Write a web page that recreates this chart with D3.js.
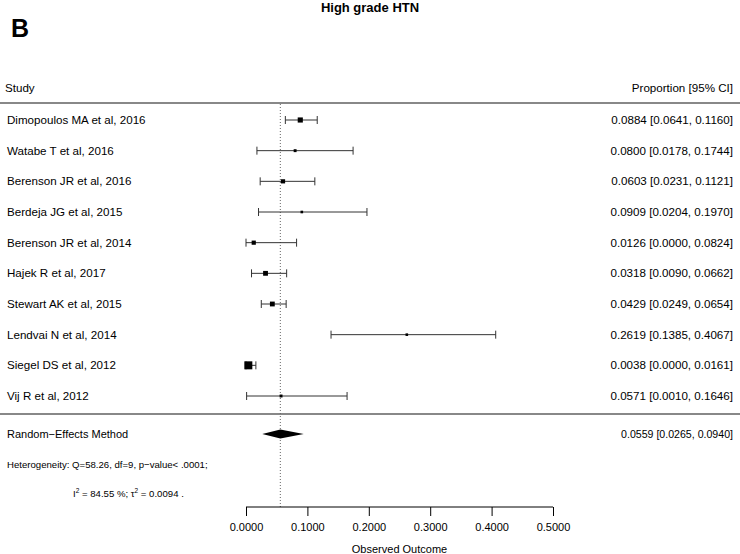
<!DOCTYPE html>
<html>
<head>
<meta charset="utf-8">
<script src="https://cdn.jsdelivr.net/npm/d3@7"></script>
<style>
  body { margin: 0; background: #fff; }
  svg { font-family: "Liberation Sans", Arial, sans-serif; }
</style>
</head>
<body>
<svg id="chart" width="740" height="554"></svg>
<script>
// study data
const studies = ["Dimopoulos MA et al, 2016", "Watabe T et al, 2016", "Berenson JR et al, 2016",
  "Berdeja JG et al, 2015", "Berenson JR et al, 2014", "Hajek R et al, 2017", "Stewart AK et al, 2015",
  "Lendvai N et al, 2014", "Siegel DS et al, 2012", "Vij R et al, 2012"];
const est = [0.0884, 0.0800, 0.0603, 0.0909, 0.0126, 0.0318, 0.0429, 0.2619, 0.0038, 0.0571];
const lower = [0.0641, 0.0178, 0.0231, 0.0204, 0.0000, 0.0090, 0.0249, 0.1385, 0.0000, 0.0010];
const upper = [0.1160, 0.1744, 0.1121, 0.1970, 0.0824, 0.0662, 0.0654, 0.4067, 0.0161, 0.1646];
const weights = [11.5, 8, 10, 7.5, 10, 11, 11, 7.5, 16, 8];   // approx. relative weights
const pooled = { est: 0.0559, lo: 0.0265, hi: 0.0940 };
const xTicks = [0, 0.1, 0.2, 0.3, 0.4, 0.5];

const svg = d3.select("#chart");
const W = 740;

const x = d3.scaleLinear().domain([0, 0.5]).range([246, 553]);
const y = d3.scaleLinear().domain([0, studies.length - 1]).range([120, 396]);
const size = d3.scaleLinear().domain([7.5, 16]).range([2.6, 8]);
const fmt = d3.format(".4f");

// titles
svg.append("text").attr("x", 370).attr("y", 12).attr("text-anchor", "middle")
  .attr("font-size", 13).attr("font-weight", "bold").text("High grade HTN");
svg.append("text").attr("x", 11).attr("y", 37)
  .attr("font-size", 25).attr("font-weight", "bold").text("B");

// headers
svg.append("text").attr("x", 5).attr("y", 88).attr("dy", "0.35em").attr("font-size", 11.6).text("Study");
svg.append("text").attr("x", 733).attr("y", 88).attr("dy", "0.35em").attr("text-anchor", "end")
  .attr("font-size", 11.6).text("Proportion [95% CI]");

// separator lines
[103, 414].forEach(v => {
  svg.append("line").attr("x1", 0).attr("x2", W).attr("y1", v).attr("y2", v)
    .attr("stroke", "#888").attr("stroke-width", 2);
});

// reference line at pooled estimate
svg.append("line").attr("x1", x(pooled.est)).attr("x2", x(pooled.est))
  .attr("y1", 104).attr("y2", 507)
  .attr("stroke", "#666").attr("stroke-width", 1).attr("stroke-dasharray", "1,2");

// study rows
const rows = svg.append("g").selectAll("g").data(studies).join("g")
  .attr("transform", (d, i) => `translate(0,${y(i)})`);

rows.append("text").attr("x", 7).attr("dy", "0.35em").attr("font-size", 11.6).text(d => d);
rows.append("text").attr("x", 733).attr("dy", "0.35em").attr("text-anchor", "end")
  .attr("font-size", 11.6)
  .text((d, i) => `${fmt(est[i])} [${fmt(lower[i])}, ${fmt(upper[i])}]`);

rows.append("line").attr("x1", (d, i) => x(lower[i])).attr("x2", (d, i) => x(upper[i]))
  .attr("stroke", "#333").attr("stroke-width", 1);
rows.append("line").attr("x1", (d, i) => x(lower[i])).attr("x2", (d, i) => x(lower[i]))
  .attr("y1", -4).attr("y2", 4).attr("stroke", "#333").attr("stroke-width", 1);
rows.append("line").attr("x1", (d, i) => x(upper[i])).attr("x2", (d, i) => x(upper[i]))
  .attr("y1", -4).attr("y2", 4).attr("stroke", "#333").attr("stroke-width", 1);
rows.append("rect")
  .attr("x", (d, i) => x(est[i]) - size(weights[i]) / 2)
  .attr("y", (d, i) => -size(weights[i]) / 2)
  .attr("width", (d, i) => size(weights[i]))
  .attr("height", (d, i) => size(weights[i]))
  .attr("fill", "#000");

// pooled estimate
const yp = 434;
svg.append("polygon")
  .attr("points", [[x(pooled.lo), yp], [x(pooled.est), yp - 4.5], [x(pooled.hi), yp], [x(pooled.est), yp + 4.5]].join(" "))
  .attr("fill", "#000");
svg.append("text").attr("x", 7).attr("y", yp).attr("dy", "0.35em").attr("font-size", 11)
  .text("Random\u2212Effects Method");
svg.append("text").attr("x", 733).attr("y", yp).attr("dy", "0.35em").attr("text-anchor", "end")
  .attr("font-size", 10.6)
  .text(`${fmt(pooled.est)} [${fmt(pooled.lo)}, ${fmt(pooled.hi)}]`);

svg.append("text").attr("x", 7).attr("y", 465).attr("dy", "0.35em").attr("font-size", 9.6)
  .text("Heterogeneity: Q=58.26, df=9, p\u2212value< .0001;");
const t2 = svg.append("text").attr("x", 73).attr("y", 494).attr("dy", "0.35em").attr("font-size", 9.6);
t2.append("tspan").text("I");
t2.append("tspan").attr("dy", -4).attr("font-size", 6.5).text("2");
t2.append("tspan").attr("dy", 4).text(" = 84.55 %;  \u03c4");
t2.append("tspan").attr("dy", -4).attr("font-size", 6.5).text("2");
t2.append("tspan").attr("dy", 4).text(" = 0.0094 .");

// x axis
const axis = svg.append("g").attr("transform", "translate(0,507)")
  .call(d3.axisBottom(x).tickValues(xTicks).tickFormat(fmt).tickSize(9).tickPadding(7));
axis.select(".domain").attr("stroke", "#000").attr("d", `M${x(0)},0H${x(0.5)}`);
axis.selectAll(".tick line").attr("stroke", "#000");
axis.selectAll("text").attr("font-size", 11).attr("font-family", "Liberation Sans, Arial, sans-serif").attr("fill", "#000");

svg.append("text").attr("x", x(0.25)).attr("y", 553).attr("text-anchor", "middle")
  .attr("font-size", 11).text("Observed Outcome");
</script>
</body>
</html>
